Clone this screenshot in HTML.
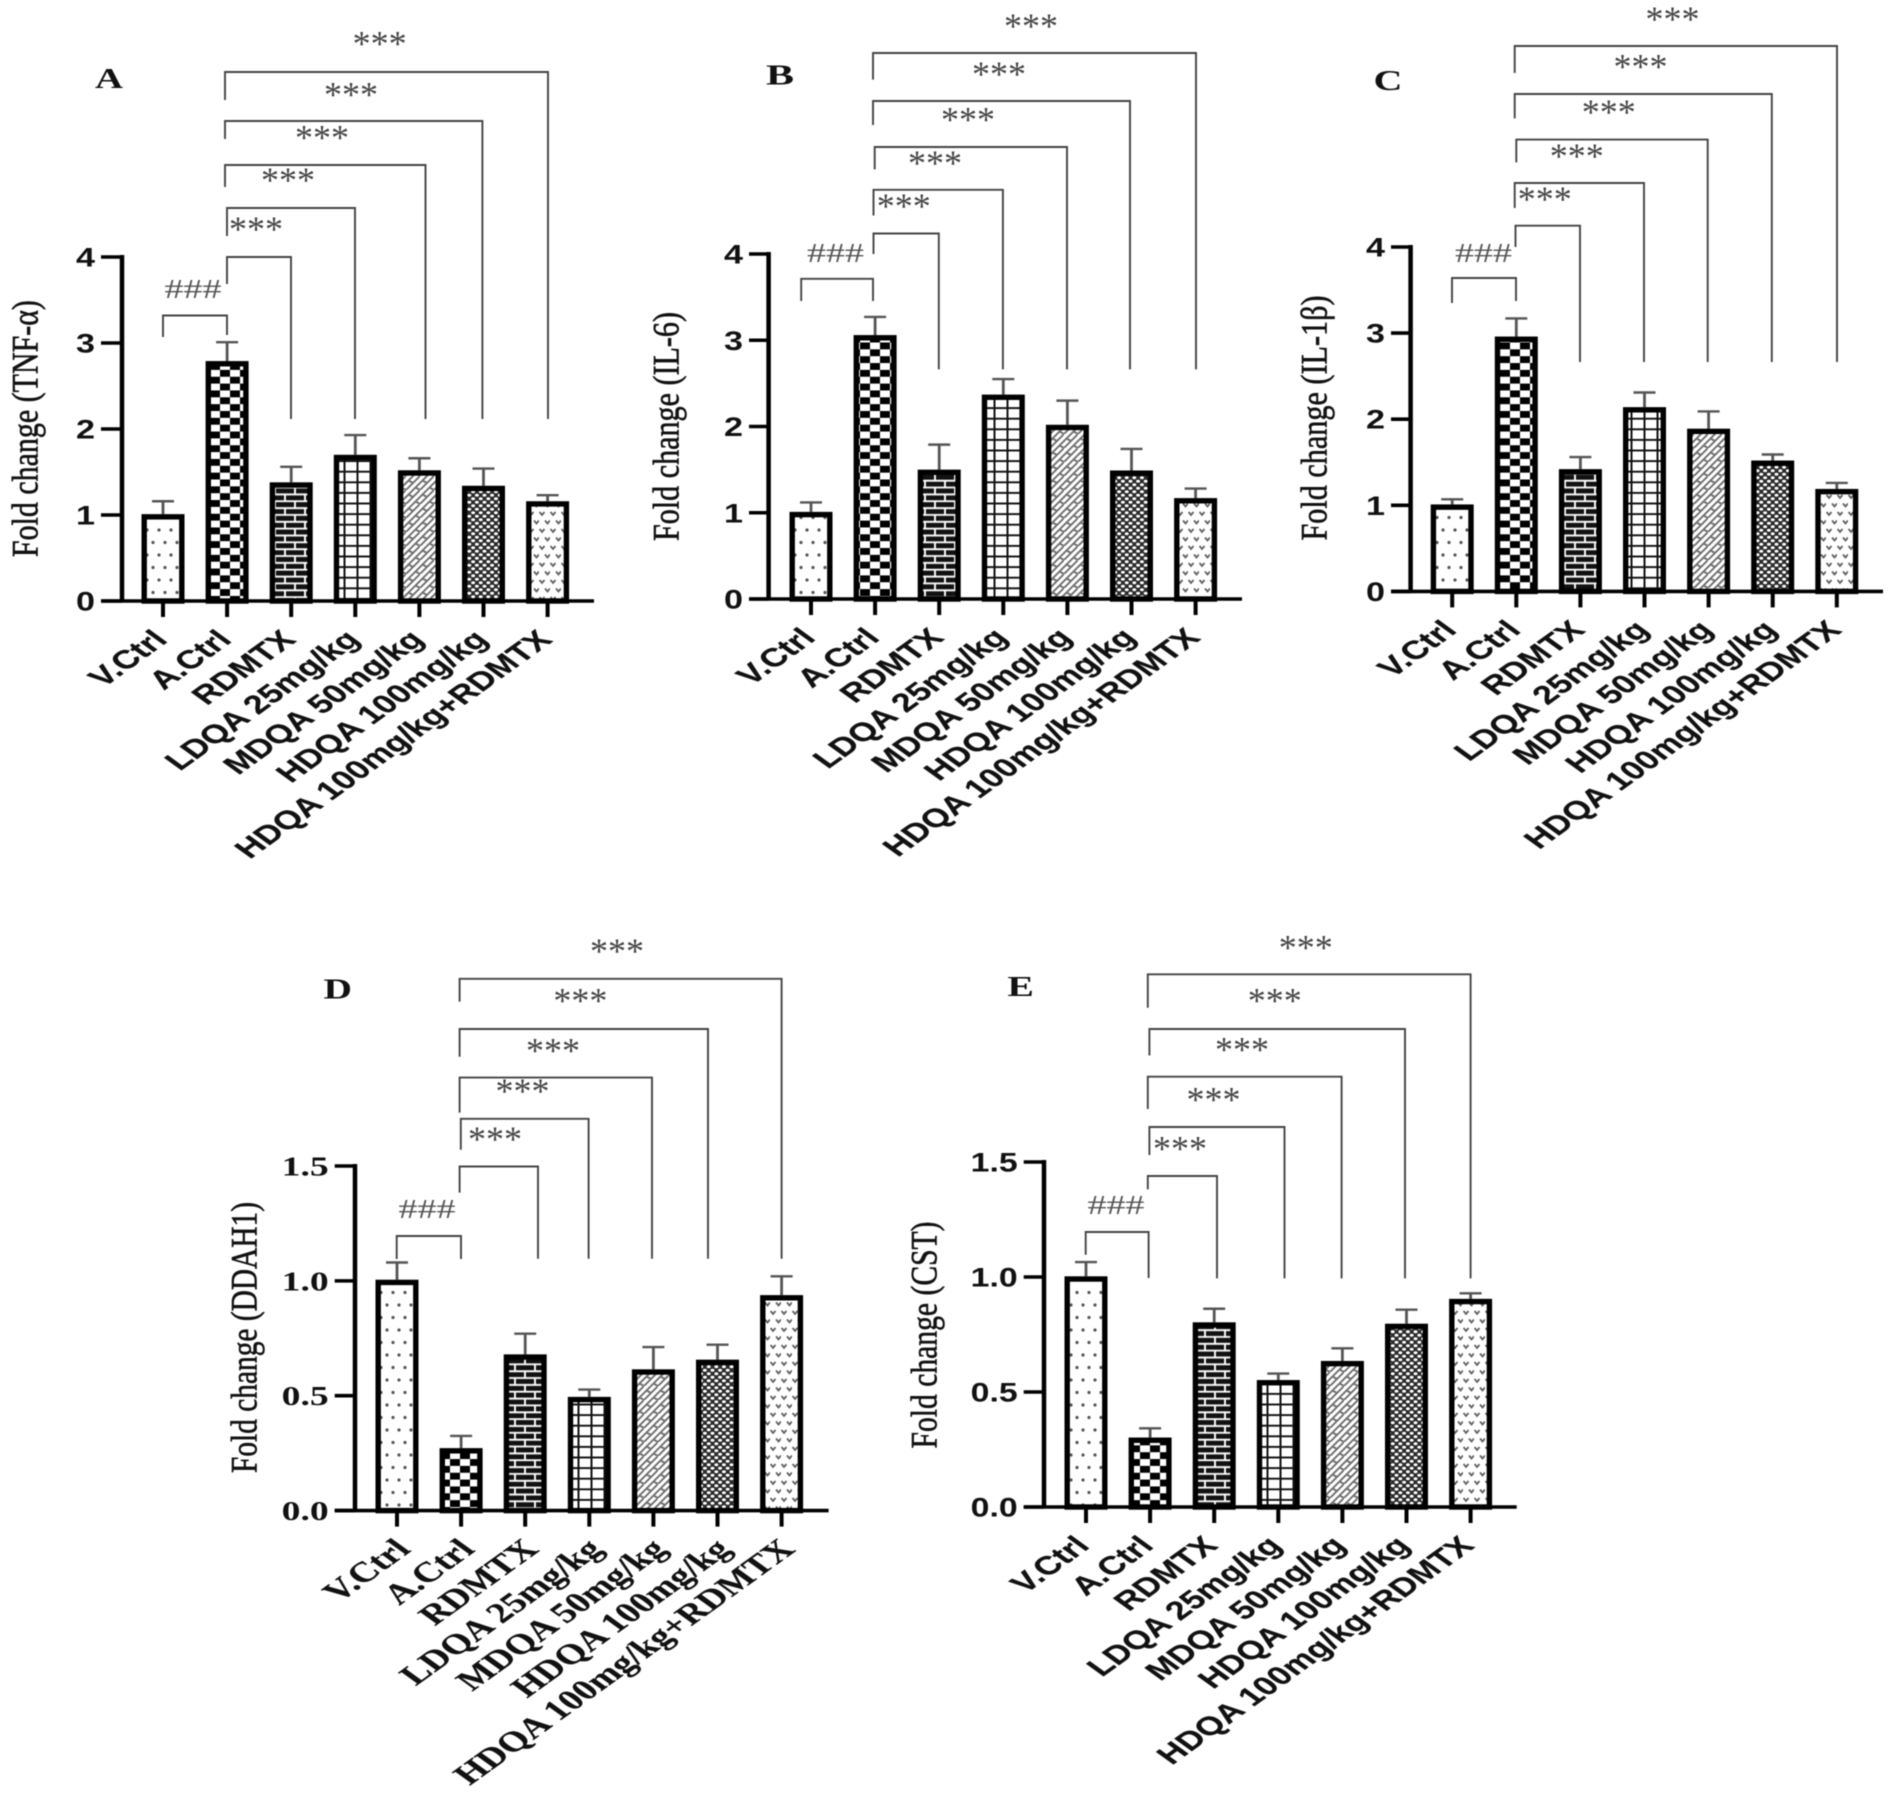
<!DOCTYPE html>
<html lang="en">
<head>
<meta charset="utf-8">
<title>Fold change bar charts</title>
<style>
html,body{margin:0;padding:0;background:#fff;}
#figure{display:block;width:1888px;height:1794px;filter:blur(0.6px);}
</style>
</head>
<body>
<svg id="figure" xmlns="http://www.w3.org/2000/svg" width="1888" height="1794" viewBox="0 0 1888 1794">
<defs>
<pattern id="p-dots" patternUnits="userSpaceOnUse" width="12" height="25">
<rect width="12" height="25" fill="#fff"/>
<circle cx="3" cy="5" r="1.6" fill="#555"/>
<circle cx="9" cy="17.5" r="1.6" fill="#555"/>
</pattern>
<pattern id="p-check" patternUnits="userSpaceOnUse" width="20" height="13.7">
<rect width="20" height="13.7" fill="#fff"/>
<rect x="0" y="0" width="10" height="6.85" fill="#000"/>
<rect x="10" y="6.85" width="10" height="6.85" fill="#000"/>
</pattern>
<pattern id="p-brick" patternUnits="userSpaceOnUse" width="20" height="13.7">
<rect width="20" height="13.7" fill="#111"/>
<path d="M0 1.2H20M0 8H20M5 1.2V8M15 8V13.7M15 0V1.2" stroke="#fff" stroke-width="1.9" fill="none"/>
</pattern>
<pattern id="p-grid" patternUnits="userSpaceOnUse" width="13" height="10.6">
<rect width="13" height="10.6" fill="#fff"/>
<path d="M6.5 0V10.6M0 5.3H13" stroke="#111" stroke-width="2" fill="none"/>
</pattern>
<pattern id="p-diag" patternUnits="userSpaceOnUse" width="14" height="14">
<rect width="14" height="14" fill="#fff"/>
<path d="M-2 16L16 -2M-2 9L9 -2M5 16L16 5M2.5 4.5L7 7M9.5 11.5L14 14M0 14L0 14" stroke="#707070" stroke-width="1.9" fill="none"/>
</pattern>
<pattern id="p-fine" patternUnits="userSpaceOnUse" width="7.6" height="7">
<rect width="7.6" height="7" fill="#2a2a2a"/>
<ellipse cx="1.9" cy="1.75" rx="2" ry="1.45" fill="#fff"/>
<ellipse cx="5.7" cy="5.25" rx="2" ry="1.45" fill="#fff"/>
</pattern>
<pattern id="p-chev" patternUnits="userSpaceOnUse" width="11" height="17">
<rect width="11" height="17" fill="#fff"/>
<path d="M0.5 2L3 5L5.5 2M6 10.5L8.5 13.5L11 10.5" stroke="#606060" stroke-width="1.8" fill="none"/>
</pattern>
</defs>
<g id="root"></g>
</svg>
<script>
const categories = ['V.Ctrl', 'A.Ctrl', 'RDMTX', 'LDQA 25mg/kg', 'MDQA 50mg/kg', 'HDQA 100mg/kg', 'HDQA 100mg/kg+RDMTX'];
const ticksTop = ['0', '1', '2', '3', '4'];
const ticksBottom = ['0.0', '0.5', '1.0', '1.5'];
const valuesA = [1.01, 2.79, 1.38, 1.70, 1.52, 1.34, 1.16];
const upperA = [1.16, 3.01, 1.56, 1.93, 1.66, 1.54, 1.23];
const valuesB = [1.01, 3.06, 1.50, 2.37, 2.02, 1.49, 1.17];
const upperB = [1.12, 3.27, 1.79, 2.55, 2.30, 1.74, 1.28];
const valuesC = [1.01, 2.96, 1.42, 2.14, 1.89, 1.52, 1.19];
const upperC = [1.07, 3.17, 1.56, 2.31, 2.09, 1.59, 1.26];
const valuesD = [1.005, 0.272, 0.68, 0.495, 0.615, 0.657, 0.938];
const upperD = [1.08, 0.325, 0.77, 0.527, 0.712, 0.722, 1.02];
const valuesE = [1.003, 0.302, 0.803, 0.552, 0.635, 0.797, 0.905];
const upperE = [1.065, 0.342, 0.862, 0.58, 0.69, 0.858, 0.929];
const fills = ['p-dots', 'p-check', 'p-brick', 'p-grid', 'p-diag', 'p-fine', 'p-chev'];

const SANS = '"Liberation Sans", sans-serif';
const SERIF = '"Liberation Serif", serif';
const NS = 'http://www.w3.org/2000/svg';
const root = document.getElementById('root');

function mk(tag, parent, attrs, text) {
  const el = document.createElementNS(NS, tag);
  for (const k in attrs) el.setAttribute(k, attrs[k]);
  if (text !== undefined) el.textContent = text;
  parent.appendChild(el);
  return el;
}

function drawPanel(p) {
  const g = mk('g', root, {});
  
  

  const maxTick = parseFloat(p.ticks[p.ticks.length - 1]);
  const yScale = v => p.y0 + (p.yTop - p.y0) * v / maxTick;
  const xScale = i => p.x0 + i * p.step;
  const slug = s => s.toLowerCase().replace(/[^a-z0-9]+/g, '-');

  // bars and error bars
  p.values.forEach((v, i) => {
    const top = yScale(v);
    const cx = xScale(i);
    const upper = yScale(p.upper[i]);
    const err = mk('line', g, {x1: cx, x2: cx, y1: top, y2: upper, stroke: '#555', 'stroke-width': 2.8});
    
    
    const cap = mk('line', g, {x1: cx - 11, x2: cx + 11, y1: upper, y2: upper, stroke: '#555', 'stroke-width': 2.4});
    
    
    const bar = mk('rect', g, {x: cx - 18.8, y: top + 2.7, width: 37.6, height: p.y0 - top - 2.7, fill: 'url(#' + fills[i] + ')', stroke: '#000', 'stroke-width': 5.4});
    
    
  });

  // axes
  const yAxis = mk('line', g, {x1: p.spine, x2: p.spine, y1: p.yTop - 2, y2: p.y0, stroke: '#000', 'stroke-width': 4.5});
  
  
  const xAxis = mk('line', g, {x1: p.left, x2: p.right, y1: p.y0, y2: p.y0, stroke: '#000', 'stroke-width': 3.6});
  
  

  // y ticks
  p.ticks.forEach(t => {
    const y = yScale(parseFloat(t));
    const tick = mk('line', g, {x1: p.left, x2: p.spine, y1: y, y2: y, stroke: '#000', 'stroke-width': 3.6});
    
    
    const lab = mk('text', g, {x: p.left - 6, y: y + 9.5, 'text-anchor': 'end', 'font-family': p.labelFont, 'font-weight': 'bold', 'font-size': 27, fill: '#111', textLength: p.tickLen, lengthAdjust: 'spacingAndGlyphs'}, t);
    
    
  });

  // x ticks and labels
  categories.forEach((c, i) => {
    const cx = xScale(i);
    const tick = mk('line', g, {x1: cx, x2: cx, y1: p.y0, y2: p.y0 + 16, stroke: '#000', 'stroke-width': 4});
    
    
    const lab = mk('text', g, {transform: 'translate(' + (cx + p.labelDx) + ',' + (p.y0 + 40) + ') scale(1,0.72) rotate(-45)', 'text-anchor': 'end', 'font-family': p.labelFont, 'font-weight': 'bold', 'font-size': p.labelSize, fill: '#111', stroke: '#111', 'stroke-width': 0.3}, c);
    
    
  });

  // y title
  const title = mk('text', g, {transform: 'translate(' + (p.titleX + 9.5) + ',' + p.titleY + ') rotate(-90)', 'text-anchor': 'middle', 'font-family': SERIF, 'font-size': 37, fill: '#111', stroke: '#111', 'stroke-width': 0.6, textLength: p.titleLen, lengthAdjust: 'spacingAndGlyphs'}, p.title);
  
  

  // panel letter
  const letter = mk('text', g, {x: p.letter[0] - 1, y: p.letter[1] + 9, 'text-anchor': 'middle', 'font-family': SERIF, 'font-weight': 'bold', 'font-size': 29, fill: '#111', textLength: p.letterLen, lengthAdjust: 'spacingAndGlyphs'}, p.id);
  
  

  // significance brackets: [leftX, rightX, topY, leftBottomY, rightBottomY]
  p.brackets.forEach(b => {
    const path = mk('path', g, {d: 'M' + b[0] + ' ' + b[3] + 'V' + b[2] + 'H' + b[1] + 'V' + b[4], fill: 'none', stroke: '#444', 'stroke-width': 1.9});
    
    
  });
  p.stars.forEach(s => {
    const st = mk('text', g, {x: s[0] - 2, y: s[1] + 16, 'text-anchor': 'middle', 'font-family': SERIF, 'font-size': 36, fill: '#444', textLength: 54, lengthAdjust: 'spacing'}, '***');
    
    
  });
  const hash = mk('text', g, {x: p.hash[0], y: p.hash[1] + 9, 'text-anchor': 'middle', 'font-family': SERIF, 'font-size': 27, fill: '#555', textLength: 57, lengthAdjust: 'spacingAndGlyphs'}, '###');
  
  
}

drawPanel({
  id: 'A', title: 'Fold change (TNF-\u03b1)', values: valuesA, upper: upperA, ticks: ticksTop,
  spine: 122, left: 101, right: 594, y0: 601, yTop: 257, x0: 163, step: 64.1,
  labelFont: SANS, labelSize: 36, labelDx: 6, tickLen: 19,
  titleX: 28, titleY: 428.6, titleLen: 257, letter: [110, 79], letterLen: 28,
  hash: [193, 289],
  stars: [[258, 225], [290, 176], [324, 133.5], [353, 90.6], [381.6, 39.6]],
  brackets: [[163, 227, 315.5, 337, 335], [227, 291, 257, 284, 419], [227, 355, 208, 236, 419], [225, 425.5, 165, 187, 419], [225, 482.4, 121, 139, 419], [225, 548, 72, 100, 419]]
});
drawPanel({
  id: 'B', title: 'Fold change (IL-6)', values: valuesB, upper: upperB, ticks: ticksTop,
  spine: 768.6, left: 749, right: 1242, y0: 599, yTop: 254, x0: 811, step: 64.1,
  labelFont: SANS, labelSize: 36, labelDx: 6, tickLen: 19,
  titleX: 669, titleY: 426.5, titleLen: 229, letter: [781, 75.5], letterLen: 28,
  hash: [835.5, 253],
  stars: [[905.7, 202], [937, 159], [970, 115.5], [1001, 70], [1033, 22]],
  brackets: [[801.2, 873, 278.8, 301, 301], [873.5, 938.8, 233.5, 254, 369.4], [873.5, 1002.9, 189.8, 215.5, 369.4], [874.7, 1067, 147, 169.4, 369.4], [873, 1130, 101, 125, 369.4], [873, 1196, 53, 79.6, 369.4]]
});
drawPanel({
  id: 'C', title: 'Fold change (IL-1\u03b2)', values: valuesC, upper: upperC, ticks: ticksTop,
  spine: 1410.6, left: 1391, right: 1883, y0: 591.4, yTop: 247, x0: 1452.2, step: 64.1,
  labelFont: SANS, labelSize: 36, labelDx: 6, tickLen: 19,
  titleX: 1317, titleY: 418, titleLen: 245, letter: [1389, 81], letterLen: 29,
  hash: [1483.5, 253],
  stars: [[1546.7, 195], [1578.8, 151.8], [1610.8, 108], [1642.5, 62.4], [1674.5, 15]],
  brackets: [[1452, 1516, 278, 303, 301], [1515.5, 1580, 225.7, 247, 362], [1514.7, 1644, 183, 208, 362], [1516.3, 1707.7, 139.6, 162.4, 362], [1514.7, 1771.8, 94, 118.4, 362], [1514.7, 1837, 46, 73, 362]]
});
drawPanel({
  id: 'D', title: 'Fold change (DDAH1)', values: valuesD, upper: upperD, ticks: ticksBottom,
  spine: 355, left: 334.7, right: 828.6, y0: 1510.6, yTop: 1166, x0: 397, step: 64.1,
  labelFont: SERIF, labelSize: 39.5, labelDx: 15, tickLen: 47,
  titleX: 247, titleY: 1337.5, titleLen: 271, letter: [338.8, 989.4], letterLen: 28.5,
  hash: [427, 1209],
  stars: [[497, 1135], [524.5, 1087], [555, 1046.5], [582.4, 996.7], [619, 947]],
  brackets: [[396.7, 461, 1236, 1259, 1259], [459.6, 538, 1166.5, 1192.6, 1258.8], [460.8, 588.6, 1118.8, 1149.8, 1258.8], [459.6, 652, 1077.6, 1112.6, 1258.8], [459.6, 708, 1029, 1056.7, 1258.8], [459.6, 781.6, 978.8, 1001.6, 1258.8]]
});
drawPanel({
  id: 'E', title: 'Fold change (CST)', values: valuesE, upper: upperE, ticks: ticksBottom,
  spine: 1044, left: 1023.7, right: 1516.7, y0: 1507, yTop: 1162, x0: 1086, step: 64.1,
  labelFont: SANS, labelSize: 36, labelDx: 5, tickLen: 47,
  titleX: 927, titleY: 1335, titleLen: 227, letter: [1021.6, 987], letterLen: 26.5,
  hash: [1116, 1205],
  stars: [[1182, 1144.5], [1215.5, 1095.5], [1244, 1045.7], [1276.7, 996.7], [1307.8, 943.7]],
  brackets: [[1085.7, 1148.6, 1232, 1254.7, 1278], [1147.8, 1217, 1176, 1189.4, 1278.4], [1149.4, 1284.5, 1127, 1155, 1278.4], [1147.8, 1341.6, 1076.7, 1109, 1278.4], [1149.4, 1405, 1029, 1055.5, 1278.4], [1147.8, 1470.6, 974.3, 1007.8, 1278.4]]
});
</script>
</body>
</html>
